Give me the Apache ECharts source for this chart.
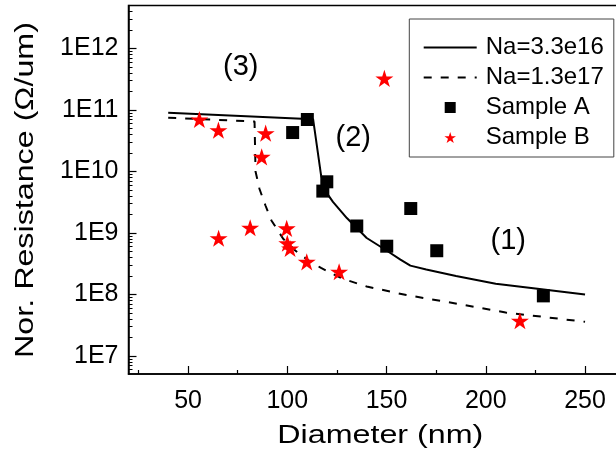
<!DOCTYPE html>
<html><head><meta charset="utf-8">
<script src="https://cdn.jsdelivr.net/npm/echarts@6/dist/echarts.min.js"></script>
<style>html,body{margin:0;padding:0;background:#fff}#c{width:616px;height:456px}</style>
</head><body><div id="c"></div>
<script>
// ---- ticks ----
const xTickValues = [50, 100, 150, 200, 250];
const xMinorTickValues = [25, 75, 125, 175, 225];
const yTickValues = [1e7, 1e8, 1e9, 1e10, 1e11, 1e12];
const yTickLabels = ['1E7', '1E8', '1E9', '1E10', '1E11', '1E12'];
const yMinorTickValues = [];
for (let d = 6; d <= 12; d++) for (let m = 2; m <= 9; m++) yMinorTickValues.push(m * Math.pow(10, d));

// ---- series data ----
const seriesNames = ['Na=3.3e16', 'Na=1.3e17', 'Sample A', 'Sample B'];
const lineA_x = [40, 113, 117, 120, 123, 130, 140, 150, 157, 162, 170, 185, 205, 225, 250];
const lineA_y = [9.0e10, 7.1e10, 8.7e9, 4.4e9, 3.2e9, 1.75e9, 8.3e8, 5.2e8, 3.7e8, 2.95e8, 2.55e8, 2.0e8, 1.5e8, 1.25e8, 1.0e8];
const lineB_x = [40, 83.5, 84, 86, 89, 92, 98, 104, 110, 117, 128, 140, 160, 180, 210, 250];
const lineB_y = [7.5e10, 6.5e10, 1.0e10, 5.2e9, 2.8e9, 1.6e9, 8.0e8, 5.2e8, 3.7e8, 2.7e8, 1.8e8, 1.35e8, 9.8e7, 7.6e7, 5.1e7, 3.6e7];
const sampleA_x = [102.7, 110.1, 119.9, 117.9, 135, 150.1, 162.2, 175.3, 229];
const sampleA_y = [4.3e10, 7.0e10, 6.8e9, 4.8e9, 1.3e9, 6.1e8, 2.5e9, 5.15e8, 9.5e7];
const sampleB_x = [55.7, 65.3, 89.1, 87.1, 148.9, 65.4, 81.3, 99.7, 100, 101.4, 109.8, 126.1, 217.2];
const sampleB_y = [7.0e10, 4.7e10, 4.2e10, 1.73e10, 3.26e11, 8.2e8, 1.22e9, 1.19e9, 6.8e8, 5.6e8, 3.4e8, 2.35e8, 3.75e7];

const zip = (xs, ys) => xs.map((x, i) => [x, ys[i]]);
const STAR = 'path://M50 0 L61.23 34.55 L97.55 34.55 L68.17 55.9 L79.39 90.45 L50 69.1 L20.61 90.45 L31.83 55.9 L2.45 34.55 L38.77 34.55 Z';
const SQUARE = 'path://M0 0 L10 0 L10 10 L0 10 Z';
const FONT = 'Liberation Sans, Arial, sans-serif';

const chart = echarts.init(document.getElementById('c'), null, {renderer: 'canvas'});
const yFmt = v => {
  const i = yTickValues.findIndex(t => Math.abs(Math.log10(t) - Math.log10(v)) < 1e-6);
  return i >= 0 ? yTickLabels[i] : '';
};
const HIDE = {color: 'rgba(0,0,0,0)', borderWidth: 0, opacity: 0};
chart.setOption({
  animation: false,
  backgroundColor: '#fff',
  grid: {left: 128.5, top: 5.5, right: -0.8, bottom: 82, show: true, borderColor: '#000', borderWidth: 1.5, outerBoundsMode: 'none'},
  xAxis: [
    {type: 'value', min: 20, max: 266, position: 'bottom',
     axisLine: {show: true, lineStyle: {color: '#000', width: 1.5}},
     axisTick: {show: true, inside: true, length: 8, customValues: xTickValues, lineStyle: {color: '#000', width: 1.2}},
     axisLabel: {customValues: xTickValues, fontSize: 25, margin: 15, color: '#000', fontFamily: FONT},
     splitLine: {show: false}},
    {type: 'value', min: 20, max: 266, position: 'bottom',
     axisLine: {show: false},
     axisTick: {show: true, inside: true, length: 4, customValues: xMinorTickValues, lineStyle: {color: '#000', width: 1.2}},
     axisLabel: {show: false}, splitLine: {show: false}}
  ],
  yAxis: [
    {type: 'log', logBase: 10, min: 5.1e6, max: 5e12, position: 'left',
     axisLine: {show: true, lineStyle: {color: '#000', width: 1.5}},
     axisTick: {show: true, inside: true, length: 8, customValues: yTickValues, lineStyle: {color: '#000', width: 1.2}},
     axisLabel: {customValues: yTickValues, formatter: yFmt, fontSize: 25, margin: 10, color: '#000', fontFamily: FONT},
     splitLine: {show: false}, minorTick: {show: false}},
    {type: 'log', logBase: 10, min: 5.1e6, max: 5e12, position: 'left',
     axisLine: {show: false},
     axisTick: {show: true, inside: true, length: 4, customValues: yMinorTickValues, lineStyle: {color: '#000', width: 1}},
     axisLabel: {show: false}, splitLine: {show: false}}
  ],
  legend: {
    left: 409.3, top: 19, orient: 'vertical',
    padding: [16.5, 10, 7.5, 13.4],
    itemWidth: 53, itemHeight: 11, itemGap: 6,
    symbolKeepAspect: true,
    borderColor: '#444', borderWidth: 1, backgroundColor: '#fff',
    textStyle: {fontSize: 24, fontFamily: FONT, color: '#000', padding: [0, 0, 0, 4]},
    data: [
      {name: seriesNames[0], itemStyle: HIDE},
      {name: seriesNames[1], itemStyle: HIDE},
      {name: seriesNames[2]},
      {name: seriesNames[3]}
    ]
  },
  series: [
    {name: seriesNames[0], type: 'line', data: zip(lineA_x, lineA_y), symbol: 'none', smooth: false,
     lineStyle: {color: '#000', width: 2}, itemStyle: {color: '#000'}, z: 2},
    {name: seriesNames[1], type: 'line', data: zip(lineB_x, lineB_y), symbol: 'none', smooth: false,
     lineStyle: {color: '#000', width: 2, type: [8, 9]}, itemStyle: {color: '#000'}, z: 2},
    {name: seriesNames[2], type: 'scatter', data: zip(sampleA_x, sampleA_y), symbol: SQUARE, symbolSize: 13, symbolKeepAspect: true,
     itemStyle: {color: '#000', opacity: 1}, z: 3},
    {name: seriesNames[3], type: 'scatter', data: zip(sampleB_x, sampleB_y), symbol: STAR, symbolSize: 18, symbolKeepAspect: true,
     itemStyle: {color: '#ff0000', opacity: 1}, z: 4}
  ],
  graphic: [
    {type: 'text', x: 380.3, y: 435.5, scaleX: 1.24, style: {text: 'Diameter (nm)', font: '26px ' + FONT, fill: '#000', align: 'center', verticalAlign: 'middle'}},
    {type: 'text', x: 25.8, y: 190, rotation: Math.PI / 2, scaleX: 1.29, style: {text: 'Nor. Resistance (\u03A9/um)', font: '25px ' + FONT, fill: '#000', align: 'center', verticalAlign: 'middle'}},
    {type: 'text', x: 240.8, y: 66.5, style: {text: '(3)', font: '29px ' + FONT, fill: '#000', align: 'center', verticalAlign: 'middle'}},
    {type: 'text', x: 353.3, y: 137.5, style: {text: '(2)', font: '29px ' + FONT, fill: '#000', align: 'center', verticalAlign: 'middle'}},
    {type: 'text', x: 508.3, y: 240.8, style: {text: '(1)', font: '29px ' + FONT, fill: '#000', align: 'center', verticalAlign: 'middle'}}
  ]
});
</script></body></html>
